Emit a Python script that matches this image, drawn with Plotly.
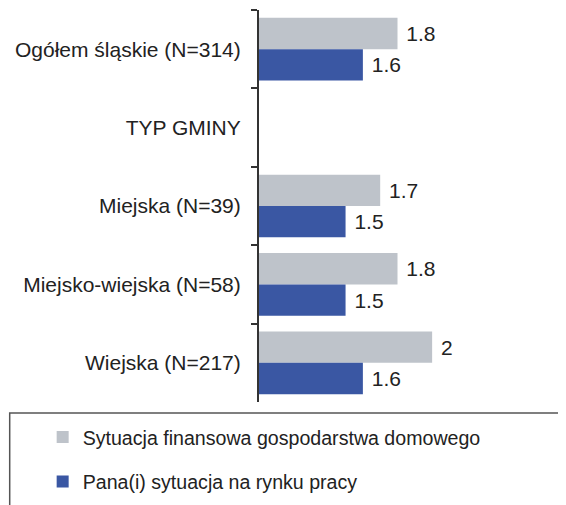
import plotly.graph_objects as go

categories = ["Ogółem śląskie (N=314)", "TYP GMINY", "Miejska (N=39)",
              "Miejsko-wiejska (N=58)", "Wiejska (N=217)"]
finanse = [1.8, None, 1.7, 1.8, 2.0]
rynek_pracy = [1.6, None, 1.5, 1.5, 1.6]
series_names = ["Sytuacja finansowa gospodarstwa domowego",
                "Pana(i) sytuacja na rynku pracy"]
colors = ["#BEC3CA", "#3A57A3"]


def labels(vals):
    return [" " + f"{v:g}" if v is not None else "" for v in vals]


fig = go.Figure()
for i, (name, vals) in enumerate(zip(series_names, [finanse, rynek_pracy])):
    fig.add_trace(go.Bar(
        y=categories, x=vals, orientation="h", name=name,
        marker=dict(color=colors[i], line=dict(width=0)),
        text=labels(vals), textposition="outside",
        textfont=dict(size=21, color="#222222", family="Liberation Sans"),
        cliponaxis=False, legendgroup=f"g{i}",
    ))

fig.update_layout(
    width=566, height=505,
    margin=dict(l=251, r=38, t=2, b=111, autoexpand=False),
    barmode="group", bargap=0.2, bargroupgap=0,
    plot_bgcolor="white", paper_bgcolor="white",
    font=dict(family="Liberation Sans", size=21, color="#222222"),
    showlegend=True,
    legend=dict(x=-0.781, xanchor="left", y=-0.04, yanchor="top",
                font=dict(size=19.6, color="#222222"),
                traceorder="grouped", tracegroupgap=16,
                bgcolor="rgba(0,0,0,0)"),
    shapes=[dict(type="rect", xref="paper", yref="paper",
                 x0=-0.9, x1=1.3, y0=-0.028, y1=-0.5,
                 line=dict(color="#555555", width=1.5))],
)
fig.update_xaxes(range=[1, 2.6], visible=False, showgrid=False, zeroline=False)
fig.update_yaxes(autorange="reversed", showline=True, linecolor="#333333",
                 linewidth=2, ticks="outside", tickson="boundaries",
                 ticklen=6, tickcolor="#333333", tickwidth=1.5,
                 showgrid=False, ticklabelstandoff=12, automargin=False,
                 tickfont=dict(size=21, color="#222222"))

fig.write_html("out.html")
